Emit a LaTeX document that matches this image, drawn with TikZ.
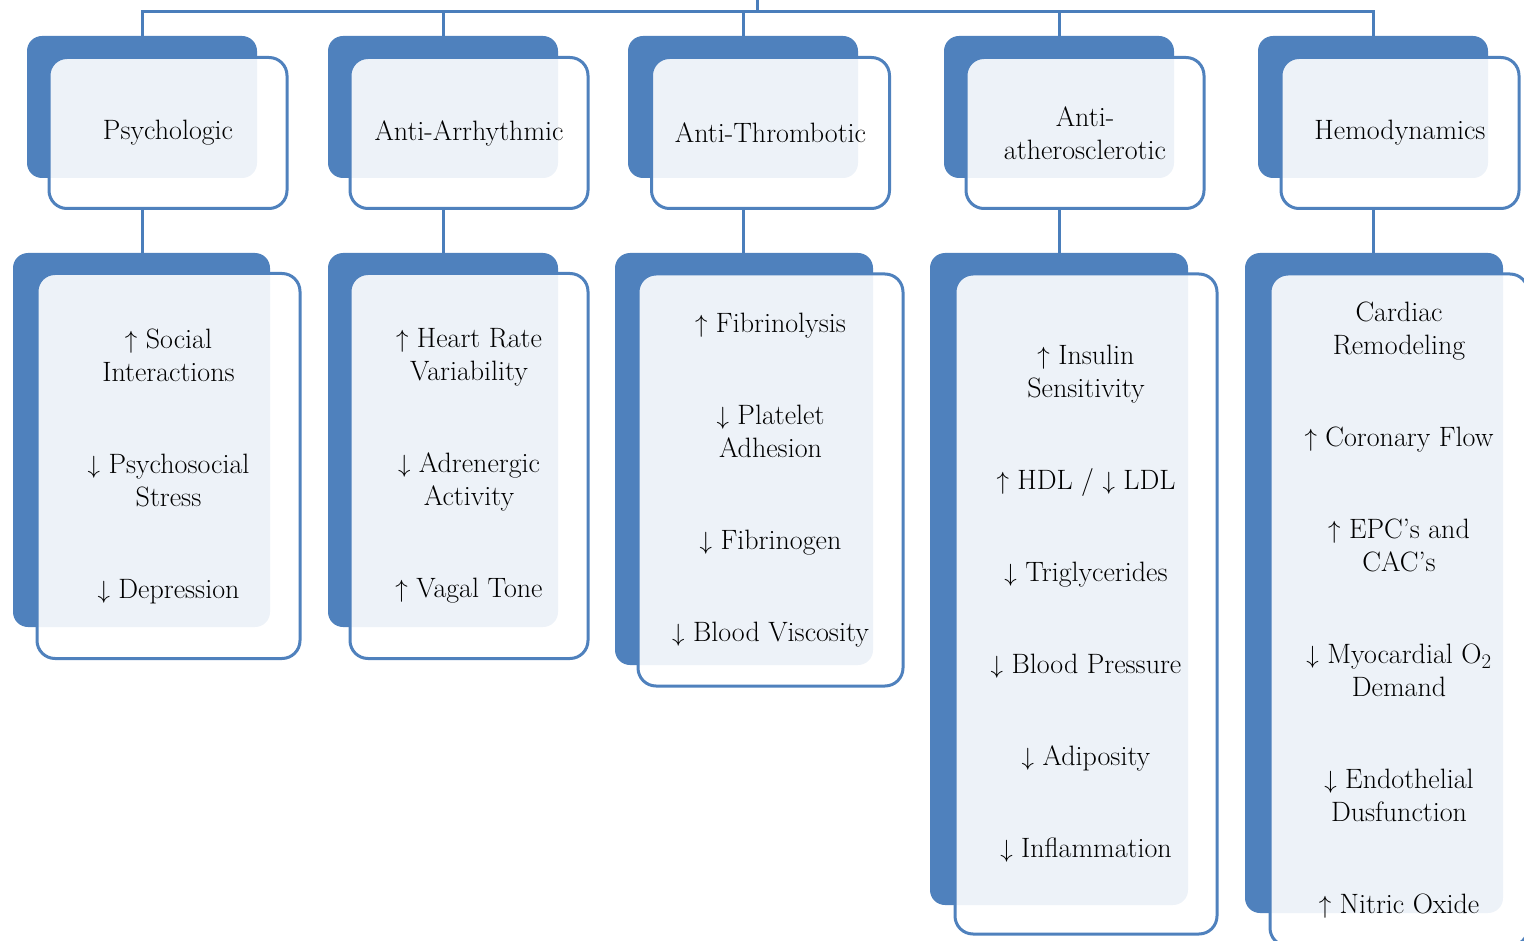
\documentclass[tikz,border=0pt]{standalone}
\usetikzlibrary{positioning}

\definecolor{boxblue}{RGB}{79,129,189}
\definecolor{lineblue}{RGB}{74,126,187}

\begin{document}
\begin{tikzpicture}[
  x=1pt, y=-1pt,
  every node/.style={font=\fontsize{28}{33}\selectfont, align=center, inner sep=0pt},
  back/.style={rectangle, rounded corners=15pt, fill=boxblue},
  front/.style={rectangle, rounded corners=18pt, draw=boxblue, line width=3pt,
    fill=white, fill opacity=0.9, text opacity=1},
  hback/.style={back, minimum width=230pt, minimum height=142pt},
  hfront/.style={front, minimum width=238pt, minimum height=151pt},
  link/.style={draw=lineblue, line width=3pt},
]
  \useasboundingbox (0,0) rectangle (1524,941);

  % header row
  \node[hback] (h1b) at (142,107) {};
  \node[hfront] (h1) at (168,133) {Psychologic};

  \node[hback] (h2b) at (443,107) {};
  \node[hfront] (h2) at (469,133) {Anti-Arrhythmic};

  \node[hback] (h3b) at (743,107) {};
  \node[hfront] (h3) at (770.5,133) {Anti-Thrombotic};

  \node[hback] (h4b) at (1059,107) {};
  \node[hfront] (h4) at (1085,133) {Anti-\\atherosclerotic};

  \node[hback] (h5b) at (1373,107) {};
  \node[hfront] (h5) at (1400,133) {Hemodynamics};

  % effect boxes
  \node[back, minimum width=257pt, minimum height=374pt] (b1b) at (141.5,440) {};
  \node[front, minimum width=263pt, minimum height=385pt] (b1) at (168.5,466) {
    $\uparrow$ Social\\Interactions\\[59pt]
    $\downarrow$ Psychosocial\\Stress\\[59pt]
    $\downarrow$ Depression
  };

  \node[back, minimum width=230pt, minimum height=374pt] (b2b) at (443,440) {};
  \node[front, minimum width=238pt, minimum height=385pt] (b2) at (469,466) {
    $\uparrow$ Heart Rate\\Variability\\[59pt]
    $\downarrow$ Adrenergic\\Activity\\[59pt]
    $\uparrow$ Vagal Tone
  };

  \node[back, minimum width=258pt, minimum height=412pt] (b3b) at (744,459) {};
  \node[front, minimum width=265pt, minimum height=412pt] (b3) at (770.5,480) {
    $\uparrow$ Fibrinolysis\\[59pt]
    $\downarrow$ Platelet\\Adhesion\\[59pt]
    $\downarrow$ Fibrinogen\\[59pt]
    $\downarrow$ Blood Viscosity
  };

  \node[back, minimum width=258pt, minimum height=652pt] (b4b) at (1059,579) {};
  \node[front, minimum width=262pt, minimum height=660pt] (b4) at (1086,604) {
    $\uparrow$ Insulin\\Sensitivity\\[59pt]
    $\uparrow$ HDL / $\downarrow$ LDL\\[59pt]
    $\downarrow$ Triglycerides\\[59pt]
    $\downarrow$ Blood Pressure\\[59pt]
    $\downarrow$ Adiposity\\[59pt]
    $\downarrow$ Inflammation
  };

  \node[back, minimum width=258pt, minimum height=660pt] (b5b) at (1374,583) {};
  \node[front, minimum width=258pt, minimum height=672pt] (b5) at (1399,610) {
    Cardiac\\Remodeling\\[59pt]
    $\uparrow$ Coronary Flow\\[59pt]
    $\uparrow$ EPC's and\\CAC's\\[59pt]
    $\downarrow$ Myocardial O$_2$\\Demand\\[59pt]
    $\downarrow$ Endothelial\\Dusfunction\\[59pt]
    $\uparrow$ Nitric Oxide
  };

  % tree lines
  \coordinate (root) at (757,0);
  \coordinate (bus) at (757,12);
  \draw[link] (root) -- (bus);
  \draw[link] (h1b.north) |- (h5b.north |- bus) -- (h5b.north);
  \draw[link] (h2b.north) -- (h2b.north |- bus);
  \draw[link] (h3b.north) -- (h3b.north |- bus);
  \draw[link] (h4b.north) -- (h4b.north |- bus);

  \draw[link] (h1b.south |- h1.south) -- (h1b.south |- b1b.north);
  \draw[link] (h2b.south |- h2.south) -- (h2b.south |- b2b.north);
  \draw[link] (h3b.south |- h3.south) -- (h3b.south |- b3b.north);
  \draw[link] (h4b.south |- h4.south) -- (h4b.south |- b4b.north);
  \draw[link] (h5b.south |- h5.south) -- (h5b.south |- b5b.north);
\end{tikzpicture}
\end{document}
